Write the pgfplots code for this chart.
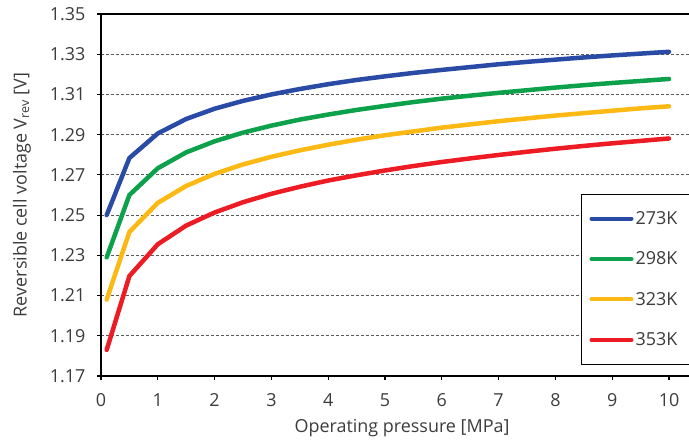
\documentclass[border=0pt]{standalone}
\usepackage{fontspec}
\setmainfont{Open Sans}
\usepackage{pgfplots}
\pgfplotsset{compat=1.18}

\definecolor{c273}{RGB}{42,75,165}
\definecolor{c298}{RGB}{14,161,75}
\definecolor{c323}{RGB}{253,185,19}
\definecolor{c353}{RGB}{237,28,36}
\definecolor{txt}{RGB}{60,60,60}

\newcommand{\lblfont}{\fontsize{18}{21}\selectfont}

\begin{document}
\begin{tikzpicture}
\begin{axis}[
  at={(101bp,65bp)}, anchor=south west,
  scale only axis, width=596.4bp, height=362bp,
  xmin=0, xmax=10.5, ymin=1.17, ymax=1.35,
  xtick={0,1,2,3,4,5,6,7,8,9,10},
  ytick={1.17,1.19,1.21,1.23,1.25,1.27,1.29,1.31,1.33,1.35},
  axis x line*=box, axis y line*=left,
  axis line style={line width=2.5bp, -},
  xtick pos=left, ytick pos=left,
  tick align=outside, major tick length=4bp,
  tick style={line width=1.2bp, black},
  ymajorgrids,
  grid style={dash pattern=on 3bp off 2bp, line width=0.9bp, black!65},
  /pgf/number format/assume math mode=true,
  y tick label style={/pgf/number format/fixed, /pgf/number format/fixed zerofill,
    /pgf/number format/precision=2, xshift=-8bp},
  x tick label style={yshift=-10bp},
  tick label style={font=\lblfont, text=txt},
  xlabel={Operating pressure [MPa]},
  ylabel={Reversible cell voltage V\textsubscript{rev} [V]},
  label style={font=\lblfont, text=txt},
  xlabel style={at={(axis description cs:0.5047,-0.1436)}, anchor=center},
  ylabel style={at={(axis description cs:-0.1325,0.5)}, anchor=center, rotate=0},
  legend cell align=left,
  legend image code/.code={\draw[#1, line width=4bp, line cap=round] (0bp,0bp) -- (40bp,0bp);},
  legend style={at={(0.805,0.503)}, anchor=north west, draw=black, line width=0.8bp,
    fill=white, inner xsep=8bp, inner ysep=15bp, row sep=22bp, font=\lblfont, text=txt,
    nodes={inner xsep=2bp, text width=70bp}},
]
\addplot[c273, line width=4.5bp, line join=round, line cap=round] coordinates {
  (0.1,1.2500) (0.5,1.2784) (1,1.2906) (1.5,1.2978) (2,1.3029) (2.5,1.3068)
  (3,1.3100) (3.5,1.3127) (4,1.3151) (4.5,1.3172) (5,1.3190) (5.5,1.3207)
  (6,1.3222) (6.5,1.3236) (7,1.3250) (7.5,1.3262) (8,1.3273) (8.5,1.3284)
  (9,1.3294) (9.5,1.3303) (10,1.3312)};
\addlegendentry{273K}
\addplot[c298, line width=4.5bp, line join=round, line cap=round] coordinates {
  (0.1,1.2290) (0.5,1.2600) (1,1.2733) (1.5,1.2812) (2,1.2867) (2.5,1.2910)
  (3,1.2945) (3.5,1.2975) (4,1.3000) (4.5,1.3023) (5,1.3043) (5.5,1.3062)
  (6,1.3079) (6.5,1.3094) (7,1.3108) (7.5,1.3121) (8,1.3134) (8.5,1.3146)
  (9,1.3157) (9.5,1.3167) (10,1.3177)};
\addlegendentry{298K}
\addplot[c323, line width=4.5bp, line join=round, line cap=round] coordinates {
  (0.1,1.2080) (0.5,1.2416) (1,1.2561) (1.5,1.2645) (2,1.2705) (2.5,1.2752)
  (3,1.2790) (3.5,1.2822) (4,1.2850) (4.5,1.2875) (5,1.2897) (5.5,1.2916)
  (6,1.2935) (6.5,1.2951) (7,1.2967) (7.5,1.2981) (8,1.2995) (8.5,1.3007)
  (9,1.3019) (9.5,1.3031) (10,1.3041)};
\addlegendentry{323K}
\addplot[c353, line width=4.5bp, line join=round, line cap=round] coordinates {
  (0.1,1.1830) (0.5,1.2197) (1,1.2355) (1.5,1.2448) (2,1.2513) (2.5,1.2564)
  (3,1.2606) (3.5,1.2641) (4,1.2672) (4.5,1.2698) (5,1.2722) (5.5,1.2744)
  (6,1.2764) (6.5,1.2782) (7,1.2799) (7.5,1.2815) (8,1.2830) (8.5,1.2844)
  (9,1.2857) (9.5,1.2869) (10,1.2881)};
\addlegendentry{353K}
\end{axis}
\pgfresetboundingbox
\useasboundingbox (0,0) rectangle (689bp,441bp);
\end{tikzpicture}
\end{document}
